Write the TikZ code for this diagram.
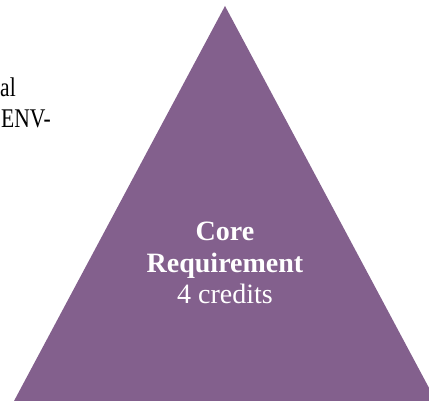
\documentclass[tikz,border=0pt]{standalone}
\usepackage{fontspec}
\setmainfont{Liberation Serif}
\newfontfamily\sidefont[FakeStretch=0.8]{Liberation Serif}
\definecolor{corepurple}{RGB}{131,96,141}
\tikzset{
  coretext/.style={text=white, inner sep=0pt, anchor=base, font=\fontsize{28}{31.5}\selectfont},
  sidetext/.style={text=black, inner sep=0pt, anchor=base west, font=\sidefont\fontsize{27}{31.5}\selectfont}
}
\begin{document}
\begin{tikzpicture}[x=1pt,y=1pt]
  \useasboundingbox (0,0) rectangle (429,401);
  \clip (0,0) rectangle (429,401);
  \fill[white] (0,0) rectangle (429,401);
  % triangle
  \coordinate (apex) at (225,395);
  \coordinate (bl) at (14,0);
  \coordinate (br) at (436,0);
  \fill[corepurple] (apex) -- (br) -- (bl) -- cycle;
  % centre text
  \node[coretext] (core) at (225,160) {\bfseries Core};
  \node[coretext] (req) at (225,128) {\bfseries Requirement};
  \node[coretext] (cred) at (225,97) {4 credits};
  % cut-off side text
  \node[sidetext] (al) at (0,304) {al};
  \node[sidetext] (env) at (1,273) {ENV-};
\end{tikzpicture}
\end{document}
